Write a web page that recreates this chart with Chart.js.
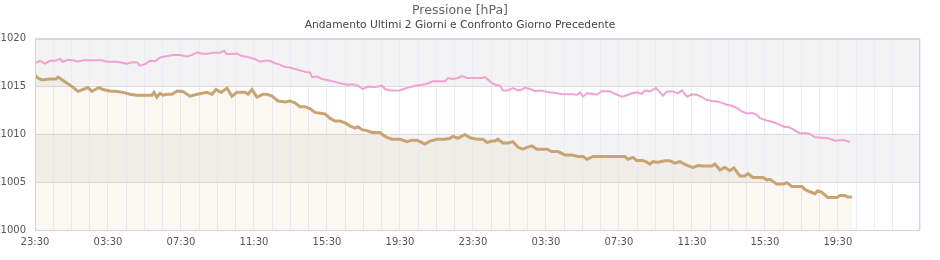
<!DOCTYPE html>
<html>
<head>
<meta charset="utf-8">
<script src="https://cdn.jsdelivr.net/npm/chart.js@4.4.1/dist/chart.umd.min.js"></script>
<style>
  html, body { margin: 0; padding: 0; background: #fff; }
  #wrap { width: 940px; height: 260px; }
</style>
</head>
<body>
<div id="wrap"><canvas id="chart" width="940" height="260"></canvas></div>
<script>
// ore trascorse dalle 23:30 del primo giorno
const ultimiOre = [0.00, 0.16, 0.38, 0.82, 1.15, 1.26, 1.64, 1.97, 2.36, 2.63, 2.90, 3.12, 3.29, 3.51, 3.73, 4.11, 4.49, 4.82, 5.21, 5.59, 6.41, 6.52, 6.68, 6.85, 7.01, 7.23, 7.51, 7.78, 8.11, 8.49, 8.88, 9.42, 9.70, 9.92, 10.19, 10.52, 10.79, 11.07, 11.51, 11.67, 11.89, 12.16, 12.49, 12.71, 12.99, 13.32, 13.70, 13.97, 14.25, 14.52, 14.79, 15.07, 15.34, 15.73, 15.89, 16.16, 16.44, 16.71, 16.99, 17.26, 17.53, 17.70, 17.92, 18.19, 18.47, 18.90, 19.07, 19.29, 19.56, 20.00, 20.16, 20.38, 20.66, 20.93, 21.10, 21.37, 21.64, 22.03, 22.47, 22.74, 22.90, 23.18, 23.56, 23.84, 24.22, 24.55, 24.77, 25.04, 25.21, 25.37, 25.64, 25.92, 26.19, 26.47, 26.74, 26.96, 27.23, 27.51, 28.05, 28.33, 28.66, 29.04, 29.42, 29.75, 30.03, 30.25, 30.58, 31.40, 31.78, 32.33, 32.49, 32.77, 32.99, 33.26, 33.48, 33.70, 33.86, 34.14, 34.52, 34.79, 35.07, 35.34, 35.73, 36.05, 36.33, 36.60, 37.10, 37.26, 37.53, 37.81, 38.08, 38.30, 38.63, 38.90, 39.07, 39.34, 39.89, 40.11, 40.27, 40.66, 40.99, 41.21, 41.48, 42.03, 42.19, 42.47, 42.74, 42.90, 43.12, 43.45, 43.95, 44.11, 44.38, 44.55, 44.77];
const ultimiValori = [1016.2, 1015.9, 1015.7, 1015.8, 1015.8, 1016.0, 1015.5, 1015.1, 1014.5, 1014.7, 1014.9, 1014.5, 1014.7, 1014.9, 1014.7, 1014.55, 1014.5, 1014.4, 1014.2, 1014.1, 1014.1, 1014.4, 1013.9, 1014.3, 1014.1, 1014.2, 1014.2, 1014.55, 1014.5, 1014.0, 1014.2, 1014.4, 1014.2, 1014.7, 1014.4, 1014.85, 1014.0, 1014.4, 1014.4, 1014.2, 1014.7, 1013.9, 1014.2, 1014.2, 1014.0, 1013.5, 1013.4, 1013.5, 1013.3, 1012.9, 1012.9, 1012.7, 1012.3, 1012.2, 1012.15, 1011.7, 1011.4, 1011.4, 1011.2, 1010.9, 1010.65, 1010.8, 1010.5, 1010.4, 1010.2, 1010.2, 1009.95, 1009.7, 1009.5, 1009.5, 1009.4, 1009.25, 1009.4, 1009.4, 1009.25, 1009.0, 1009.3, 1009.5, 1009.5, 1009.6, 1009.8, 1009.6, 1010.0, 1009.65, 1009.5, 1009.5, 1009.15, 1009.3, 1009.3, 1009.5, 1009.1, 1009.1, 1009.25, 1008.65, 1008.45, 1008.65, 1008.8, 1008.45, 1008.45, 1008.2, 1008.2, 1007.85, 1007.85, 1007.7, 1007.7, 1007.4, 1007.7, 1007.7, 1007.7, 1007.7, 1007.4, 1007.6, 1007.25, 1007.3, 1007.15, 1006.9, 1007.15, 1007.1, 1007.25, 1007.25, 1007.0, 1007.15, 1006.75, 1006.55, 1006.75, 1006.7, 1006.7, 1006.9, 1006.3, 1006.55, 1006.2, 1006.5, 1005.65, 1005.65, 1005.9, 1005.5, 1005.5, 1005.25, 1005.3, 1004.8, 1004.8, 1004.95, 1004.55, 1004.55, 1004.25, 1004.0, 1003.8, 1004.1, 1003.95, 1003.4, 1003.4, 1003.6, 1003.6, 1003.45, 1003.45];

const precOre = [0.05, 0.27, 0.55, 0.82, 1.10, 1.37, 1.53, 1.81, 2.08, 2.36, 2.63, 3.67, 3.95, 4.49, 4.77, 5.04, 5.32, 5.59, 5.75, 6.03, 6.30, 6.58, 6.85, 7.23, 7.56, 7.95, 8.33, 8.60, 8.88, 9.15, 9.48, 9.75, 10.14, 10.36, 10.52, 10.79, 11.07, 11.34, 11.67, 12.05, 12.33, 12.60, 12.88, 13.15, 13.42, 13.70, 13.97, 14.25, 14.63, 14.90, 15.07, 15.18, 15.45, 15.73, 16.00, 16.33, 16.71, 17.10, 17.42, 17.70, 17.97, 18.25, 18.63, 19.01, 19.18, 19.45, 20.00, 20.27, 20.55, 20.82, 21.21, 21.48, 21.81, 22.47, 22.63, 22.90, 23.18, 23.40, 23.67, 24.49, 24.66, 24.93, 25.21, 25.48, 25.64, 25.92, 26.19, 26.47, 26.68, 26.85, 27.12, 27.40, 27.78, 28.11, 28.49, 28.88, 29.42, 29.70, 29.86, 30.03, 30.25, 30.52, 30.79, 31.07, 31.51, 31.78, 32.16, 32.44, 32.71, 32.99, 33.26, 33.42, 33.70, 34.03, 34.25, 34.41, 34.63, 34.96, 35.23, 35.45, 35.73, 36.00, 36.27, 36.55, 36.82, 37.10, 37.37, 37.64, 37.92, 38.19, 38.47, 38.74, 39.01, 39.29, 39.56, 39.73, 40.11, 40.44, 40.82, 41.10, 41.26, 41.53, 41.92, 42.19, 42.47, 42.74, 43.12, 43.45, 43.84, 44.11, 44.38, 44.66];
const precValori = [1017.5, 1017.7, 1017.4, 1017.7, 1017.7, 1017.9, 1017.6, 1017.8, 1017.75, 1017.6, 1017.75, 1017.75, 1017.6, 1017.6, 1017.5, 1017.4, 1017.55, 1017.55, 1017.2, 1017.35, 1017.7, 1017.65, 1018.05, 1018.2, 1018.3, 1018.3, 1018.15, 1018.3, 1018.6, 1018.45, 1018.45, 1018.55, 1018.55, 1018.75, 1018.4, 1018.45, 1018.45, 1018.2, 1018.1, 1017.9, 1017.6, 1017.7, 1017.7, 1017.45, 1017.3, 1017.05, 1017.0, 1016.85, 1016.65, 1016.5, 1016.5, 1016.0, 1016.05, 1015.8, 1015.7, 1015.55, 1015.35, 1015.2, 1015.25, 1015.1, 1014.75, 1015.0, 1014.95, 1015.1, 1014.75, 1014.6, 1014.6, 1014.8, 1014.95, 1015.1, 1015.2, 1015.3, 1015.55, 1015.55, 1015.9, 1015.8, 1015.9, 1016.1, 1015.9, 1015.9, 1016.0, 1015.55, 1015.2, 1015.1, 1014.6, 1014.6, 1014.85, 1014.6, 1014.7, 1014.9, 1014.75, 1014.55, 1014.6, 1014.4, 1014.35, 1014.2, 1014.2, 1014.15, 1014.4, 1013.95, 1014.3, 1014.25, 1014.15, 1014.55, 1014.5, 1014.25, 1013.95, 1014.1, 1014.3, 1014.4, 1014.25, 1014.6, 1014.5, 1014.85, 1014.4, 1014.05, 1014.5, 1014.5, 1014.3, 1014.6, 1013.95, 1014.2, 1014.15, 1013.9, 1013.6, 1013.5, 1013.45, 1013.3, 1013.1, 1013.0, 1012.75, 1012.4, 1012.2, 1012.25, 1012.05, 1011.7, 1011.45, 1011.3, 1011.0, 1010.75, 1010.8, 1010.55, 1010.1, 1010.15, 1010.05, 1009.7, 1009.65, 1009.6, 1009.35, 1009.4, 1009.4, 1009.2];

// etichette asse x, una ogni 4 ore
const xTickLabels = ["23:30", "03:30", "07:30", "11:30", "15:30", "19:30", "23:30", "03:30", "07:30", "11:30", "15:30", "19:30", "23:30"];
const yMin = 1000, yMax = 1020, yStep = 5;

function punti(ore, valori) {
    return ore.map((t, i) => ({ x: t, y: valori[i] }));
}

// fasce alternate e cornice
const bandsPlugin = {
    id: "bands",
    beforeDraw(chart) {
        const { ctx, chartArea: a, scales: { y } } = chart;
        ctx.save();
        for (let v = yMin; v < yMax; v += yStep) {
            if (((v - yMin) / yStep) % 2 === 1) {
                const top = y.getPixelForValue(v + yStep);
                const bot = y.getPixelForValue(v);
                ctx.fillStyle = "#f3f3f4";
                ctx.fillRect(a.left, top, a.right - a.left, bot - top);
            }
        }
        ctx.restore();
    },
    afterDraw(chart) {
        const { ctx, chartArea: a } = chart;
        ctx.save();
        ctx.strokeStyle = "#d4d4d4";
        ctx.lineWidth = 1;
        ctx.strokeRect(a.left + 0.5, a.top + 0.5, a.right - a.left - 1, a.bottom - a.top);
        ctx.restore();
    }
};

const ctx = document.getElementById("chart").getContext("2d");

new Chart(ctx, {
    type: "line",
    data: {
        datasets: [
            {
                label: "Ultimi 2 Giorni",
                data: punti(ultimiOre, ultimiValori),
                borderColor: "#c9a473",
                backgroundColor: "rgba(200,150,100,0.08)",
                borderWidth: 3,
                fill: "start",
                pointRadius: 0,
                tension: 0
            },
            {
                label: "Giorno Precedente",
                data: punti(precOre, precValori),
                borderColor: "#f2a2d2",
                borderWidth: 2,
                fill: false,
                pointRadius: 0,
                tension: 0
            }
        ]
    },
    options: {
        responsive: false,
        animation: false,
        layout: { padding: { left: 0, right: 20, top: 0, bottom: 0 } },
        plugins: {
            legend: { display: false },
            tooltip: { enabled: false },
            title: {
                display: true,
                text: "Pressione [hPa]",
                color: "#666",
                font: { family: "DejaVu Sans", size: 12.5, weight: "normal" },
                padding: { top: 3, bottom: 1 }
            },
            subtitle: {
                display: true,
                text: "Andamento Ultimi 2 Giorni e Confronto Giorno Precedente",
                color: "#444",
                font: { family: "DejaVu Sans", size: 10.7, weight: "normal" },
                padding: { top: 0, bottom: 7 }
            }
        },
        scales: {
            x: {
                type: "linear",
                min: 0,
                max: 48.5,
                afterFit(scale) { scale.height = 30; },
                border: { display: false },
                grid: {
                    color: "#ececf8",
                    lineWidth: 1,
                    drawTicks: false
                },
                ticks: {
                    stepSize: 1,
                    autoSkip: false,
                    maxRotation: 0,
                    padding: 6,
                    color: "#555",
                    font: { family: "DejaVu Sans", size: 10 },
                    callback(v) {
                        return (v % 4 === 0) ? xTickLabels[v / 4] : "";
                    }
                }
            },
            y: {
                min: yMin,
                max: yMax,
                afterFit(scale) { scale.width = 35; },
                border: { display: false },
                grid: {
                    color: "#dcdcdc",
                    lineWidth: 1,
                    drawTicks: false
                },
                ticks: {
                    stepSize: yStep,
                    padding: 9,
                    color: "#555",
                    font: { family: "DejaVu Sans", size: 10 },
                    callback(v) { return String(v); }
                }
            }
        }
    },
    plugins: [bandsPlugin]
});
</script>
</body>
</html>
